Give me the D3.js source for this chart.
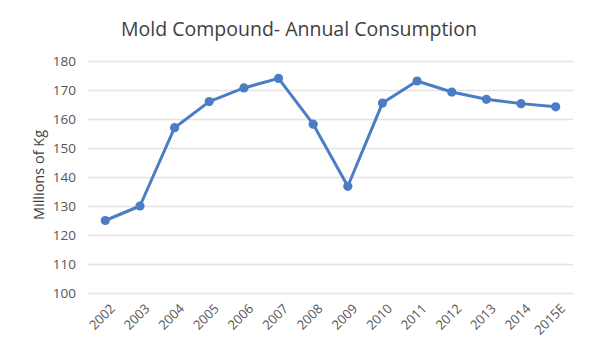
<!DOCTYPE html>
<html>
<head>
<meta charset="utf-8">
<script src="https://cdn.jsdelivr.net/npm/d3@7"></script>
<style>
  body { margin: 0; background: #fff; }
  svg { display: block; font-family: "Open Sans", "Noto Sans", sans-serif; }
</style>
</head>
<body>
<svg id="chart"></svg>
<script>
"use strict";

const chtWidth = 600,
  chtHeight = 352;

const margin = {
  top: 61,
  right: 27,
  bottom: 59,
  left: 88,
};

// chart data
const years = [
  "2002", "2003", "2004", "2005", "2006", "2007", "2008",
  "2009", "2010", "2011", "2012", "2013", "2014", "2015E",
];
const consumption = [
  125, 130, 157, 166, 170.7, 174, 158.2,
  136.8, 165.5, 173.1, 169.3, 166.8, 165.3, 164.2,
];
const yTicks = [100, 110, 120, 130, 140, 150, 160, 170, 180];

const chartTitle = "Mold Compound- Annual Consumption",
  yAxisTitle = "Millions of Kg";

const lineColour = "#4a7dc4",
  gridColour = "#e3e3e3",
  textColour = "#555555";

const data = years.map((d, i) => ({ year: d, value: consumption[i] }));

const svg = d3
  .select("#chart")
  .attr("width", chtWidth)
  .attr("height", chtHeight);

const x = d3
  .scaleBand()
  .domain(years)
  .range([margin.left, chtWidth - margin.right]);

const y = d3
  .scaleLinear()
  .domain([100, 180])
  .range([chtHeight - margin.bottom, margin.top]);

// gridlines
svg
  .append("g")
  .selectAll("line")
  .data(yTicks)
  .join("line")
  .attr("x1", margin.left)
  .attr("x2", chtWidth - margin.right)
  .attr("y1", (d) => Math.round(y(d)) + 0.5)
  .attr("y2", (d) => Math.round(y(d)) + 0.5)
  .attr("stroke", gridColour)
  .attr("stroke-width", 1.3);

// y axis labels
svg
  .append("g")
  .attr("transform", `translate(${margin.left - 12},0)`)
  .call(d3.axisLeft(y).tickValues(yTicks).tickSize(0).tickPadding(0))
  .call((g) => g.select(".domain").remove())
  .call((g) =>
    g
      .selectAll("text")
      .attr("fill", textColour)
      .attr("font-size", 13.5)
      .attr("font-family", '"Open Sans", sans-serif')
  );

// x axis labels, rotated
svg
  .append("g")
  .attr("transform", `translate(0,${chtHeight - margin.bottom + 10})`)
  .call(d3.axisBottom(x).tickSize(0).tickPadding(0))
  .call((g) => g.select(".domain").remove())
  .call((g) =>
    g
      .selectAll("text")
      .attr("fill", textColour)
      .attr("font-size", 13)
      .attr("font-family", '"Open Sans", sans-serif')
      .attr("text-anchor", "end")
      .attr("dy", "0.7em")
      .attr("transform", "translate(4,0) rotate(-45)")
  );

// y axis title
svg
  .append("text")
  .attr("transform", `translate(44,${(y(100) + y(180)) / 2 - 2}) rotate(-90)`)
  .attr("text-anchor", "middle")
  .attr("fill", "#404040")
  .attr("font-size", 14.5)
  .text(yAxisTitle);

// chart title
svg
  .append("text")
  .attr("x", 299)
  .attr("y", 36)
  .attr("text-anchor", "middle")
  .attr("fill", "#404040")
  .attr("font-size", 19.5)
  .text(chartTitle);

// line + markers
const line = d3
  .line()
  .x((d) => x(d.year) + x.bandwidth() / 2)
  .y((d) => y(d.value));

svg
  .append("path")
  .datum(data)
  .attr("d", line)
  .attr("fill", "none")
  .attr("stroke", lineColour)
  .attr("stroke-width", 3)
  .attr("stroke-linejoin", "round");

svg
  .append("g")
  .selectAll("circle")
  .data(data)
  .join("circle")
  .attr("cx", (d) => x(d.year) + x.bandwidth() / 2)
  .attr("cy", (d) => y(d.value))
  .attr("r", 4.6)
  .attr("fill", lineColour);
</script>
</body>
</html>
